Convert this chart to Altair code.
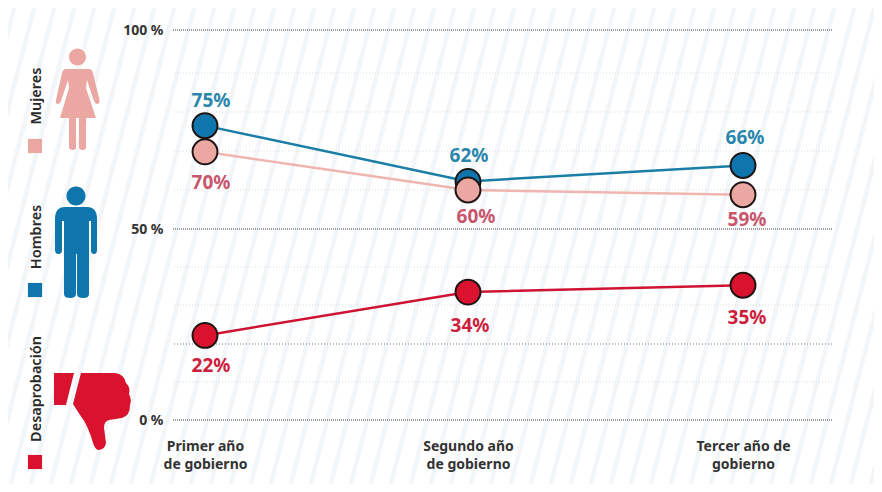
import altair as alt
import pandas as pd
import re

years = [1, 2, 3]
year_labels = {1: ["Primer año", "de gobierno"], 2: ["Segundo año", "de gobierno"], 3: ["Tercer año de", "gobierno"]}
mujeres_plot = [69.8, 60, 58.8]
hombres_plot = [76.5, 62.2, 66.3]
desaprob_plot = [22.2, 33.4, 35.2]
mujeres_text = ["70%", "60%", "59%"]
hombres_text = ["75%", "62%", "66%"]
desaprob_text = ["22%", "34%", "35%"]
major_ticks = [0, 50, 100]
medium_ticks = [20]
minor_ticks = [10, 30, 40, 60, 70, 80, 90]
scale_ticks = [0, 10, 20, 30, 40, 50, 60, 70, 80, 90, 100]

PINK, BLUE, RED = "#eba7a2", "#0f76ad", "#d9122d"
PINK_T, BLUE_T, RED_T = "#c9566c", "#2b86ab", "#cc1f3d"
FONT = "Noto Sans"
W, H = 659, 390
OX, OY = 173, 30   # page position of the plot origin


def norm(cmds, cx, cy, half):
    out = []
    for c in re.findall(r"[MLCQZ][^MLCQZ]*", cmds):
        nums = [float(n) for n in re.findall(r"-?\d+\.?\d*", c)]
        pts = []
        for i in range(0, len(nums), 2):
            pts.append(f"{(nums[i]-cx)/half:.4f} {(nums[i+1]-cy)/half:.4f}")
        out.append(c[0] + " ".join(pts))
    return "".join(out)


def circle(cx, cy, r):
    k = 0.5523 * r
    return (f"M{cx-r} {cy}C{cx-r} {cy-k} {cx-k} {cy-r} {cx} {cy-r}C{cx+k} {cy-r} {cx+r} {cy-k} {cx+r} {cy}"
            f"C{cx+r} {cy+k} {cx+k} {cy+r} {cx} {cy+r}C{cx-k} {cy+r} {cx-r} {cy+k} {cx-r} {cy}Z")


woman = circle(77.5, 57, 8.5) + (
    "M66 69L89 69Q92 69 93 73L99.5 100Q100 104 97 104Q95 104 94 101L87 80L86 88L96 118L86 118L86 147Q86 150 83 150"
    "Q79 150 79 147L79 118L76 118L76 147Q76 150 73 150Q69 150 69 147L69 118L60 118L69 88L68 80L61 101Q60 104 58 104"
    "Q55 104 56 100L62 73Q63 69 66 69Z")
man = circle(76, 196, 9.5) + (
    "M65 207L87 207Q97 207 97 219L97 250Q97 254 94 254Q91 254 91 250L91 221L89 221L89 294Q89 298 83.500 298"
    "Q77 298 77 294L77 254L76 254L76 294Q76 298 70 298Q64 298 64 294L64 221L62 221L62 250Q62 254 58.500 254"
    "Q55 254 55 250L55 219Q55 207 65 207Z")
thumb = ("M54 373L74 373L66 405L54 405Z"
         "M81 373L115 373Q124 374 126 383Q131 388 129 394Q132 400 130 405Q130 416 122 418L109 420Q104 421 104 428"
         "L106 443Q105 450 98 450Q95 449 93 443Q88 425 80 415L73 404Z")

stripes = (
    alt.Chart(alt.sequence(0, 62, as_="i"))
    .transform_calculate(x0="-178 + datum.i * 20", x1="-178 + datum.i * 20 - 125")
    .mark_rule(color="#f3f6f8", strokeWidth=4.5, clip=False)
    .encode(
        x=alt.X("x0:Q", scale=None, axis=None),
        x2="x1:Q",
        y=alt.value(-25),
        y2=alt.value(457),
    )
)

x_scale = alt.Scale(domain=years, range=[32, 295, 570])
y_scale = alt.Scale(domain=scale_ticks, range=[390, 352, 314, 275, 237, 199, 160, 121, 82, 43, 0])

label_expr = ("datum.value == 1 ? ['" + "','".join(year_labels[1]) + "'] : datum.value == 2 ? ['"
              + "','".join(year_labels[2]) + "'] : ['" + "','".join(year_labels[3]) + "']")

y_axis = alt.Axis(
    values=major_ticks, labelExpr="datum.value + ' %'", domain=False, ticks=False, grid=False, title=None,
    labelFont=FONT, labelFontSize=14, labelFontWeight=700, labelColor="#333333", labelPadding=10, zindex=1,
)
x_axis = alt.Axis(
    values=years, labelExpr=label_expr, domain=False, ticks=False, grid=False, title=None, labelFlush=False,
    labelFont=FONT, labelFontSize=14, labelFontWeight=700, labelColor="#333333", labelPadding=19,
    labelLineHeight=18, labelBaseline="top", zindex=1,
)


def grid(ticks, color, dash):
    return alt.Chart(pd.DataFrame({"v": ticks})).mark_rule(
        color=color, strokeDash=dash, strokeWidth=1
    ).encode(y=alt.Y("v:Q", scale=y_scale, axis=y_axis))


rows = []
for name, plot, txts in [("Mujeres", mujeres_plot, mujeres_text), ("Hombres", hombres_plot, hombres_text),
                         ("Desaprobación", desaprob_plot, desaprob_text)]:
    for yr, p, t in zip(years, plot, txts):
        rows.append({"serie": name, "anio": yr, "valor": p, "texto": t})
df = pd.DataFrame(rows)

X = alt.X("anio:Q", scale=x_scale, axis=x_axis)
Y = alt.Y("valor:Q", scale=y_scale, axis=y_axis)


def lines(name, color):
    d = df[df.serie == name]
    return alt.Chart(d).mark_line(color=color, strokeWidth=2.5).encode(x=X, y=Y)


def pts(name, color):
    d = df[df.serie == name]
    return alt.Chart(d).mark_point(
        filled=True, fill=color, stroke="#1f1414", strokeWidth=2, size=620, opacity=1, shape="circle"
    ).encode(x=X, y=Y)


def txt(name, color, nudges):
    d = df[df.serie == name]
    return [
        alt.Chart(d[d.anio == yr]).mark_text(
            color=color, font=FONT, fontSize=19, fontWeight=700, dx=dx, dy=dy
        ).encode(x=X, y=Y, text="texto:N")
        for yr, (dx, dy) in zip(years, nudges)
    ]


def icon(path, cx, cy, half, color):
    return alt.Chart(pd.DataFrame({"n": [0]})).mark_point(
        shape=norm(path, cx, cy, half), filled=True, fill=color, size=(2 * half) ** 2, opacity=1, strokeWidth=0
    ).encode(x=alt.value(cx - OX), y=alt.value(cy - OY))


def square(cx, cy, color):
    return alt.Chart(pd.DataFrame({"n": [0]})).mark_square(
        color=color, size=200, opacity=1
    ).encode(x=alt.value(cx - OX), y=alt.value(cy - OY))


def vlabel(text, cx, cy):
    return alt.Chart(pd.DataFrame({"t": [text]})).mark_text(
        angle=270, font=FONT, fontSize=14.5, fontWeight=600, color="#2a2a2a", baseline="middle", align="center"
    ).encode(x=alt.value(cx - OX), y=alt.value(cy - OY), text="t:N")


layers = [
    stripes,
    grid(minor_ticks, "#d8dcde", [1, 2]),
    grid(medium_ticks, "#777777", [1, 2]),
    grid(major_ticks, "#3c3c3c", [1, 1]),
    lines("Hombres", "#1a7ea6"),
    lines("Mujeres", "#efb6b0"),
    lines("Desaprobación", "#cf1433"),
    pts("Hombres", BLUE),
    pts("Mujeres", PINK),
    pts("Desaprobación", RED),
]
layers += txt("Hombres", BLUE_T, [(6, -25), (1, -25), (2, -27)])
layers += txt("Mujeres", PINK_T, [(6, 31), (8, 27), (4, 25)])
layers += txt("Desaprobación", RED_T, [(6, 31), (2, 34), (4, 33)])
layers += [
    icon(woman, 77, 103, 50, PINK),
    icon(man, 76, 242, 58, BLUE),
    icon(thumb, 92, 411, 42, RED),
    square(35, 146, PINK),
    square(35, 290, BLUE),
    square(35, 462, RED),
    vlabel("Mujeres", 37, 96),
    vlabel("Hombres", 37, 237),
    vlabel("Desaprobación", 37, 389),
]

chart = alt.layer(*layers).resolve_scale(x="shared", y="shared").properties(
    width=W,
    height=H,
    padding={"left": 165, "top": 22, "right": 42, "bottom": 64},
    autosize=alt.AutoSizeParams(type="none"),
).configure_view(stroke=None)

chart.save("out.html", embed_options={"renderer": "svg", "actions": False})
